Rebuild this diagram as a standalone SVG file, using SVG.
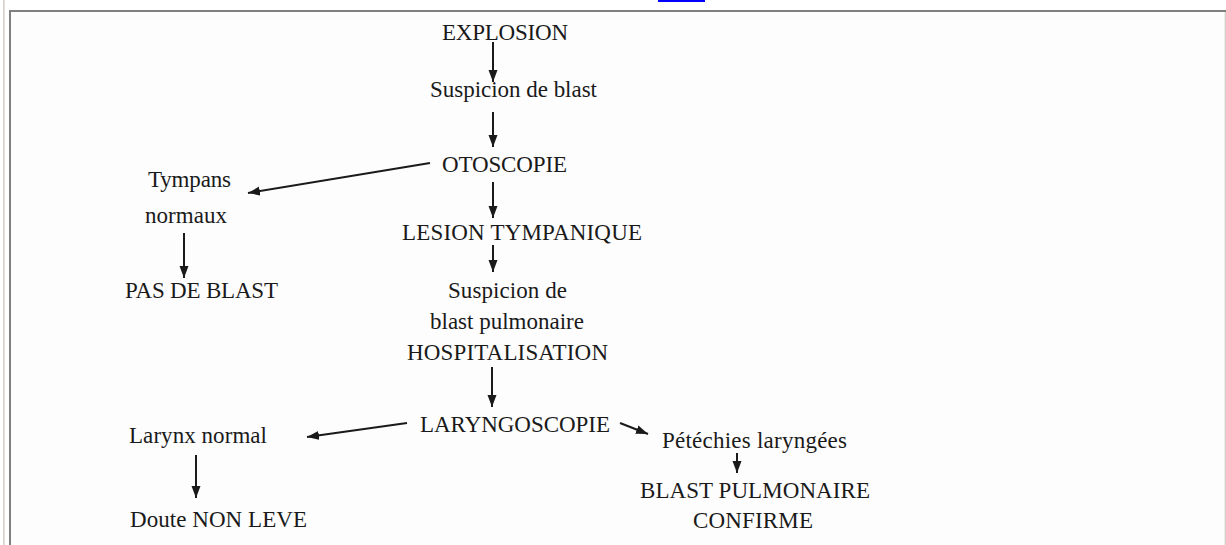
<svg xmlns="http://www.w3.org/2000/svg" width="1226" height="545" viewBox="0 0 1226 545">
<defs>
<marker id="ah" markerUnits="userSpaceOnUse" markerWidth="13" markerHeight="10" refX="12" refY="4.5" orient="auto">
<path d="M0,0 L12,4.5 L0,9 z" fill="#1a1a1a"/>
</marker>
<style>
text{font-family:"Liberation Serif","Times New Roman",serif;font-size:23px;fill:#1a1a1a}
.c line{stroke:#1a1a1a;stroke-width:2;marker-end:url(#ah)}
</style>
</defs>
<rect x="0" y="0" width="1226" height="545" fill="#ffffff"/>
<rect x="11" y="12" width="1213" height="533" fill="#fdfdfd"/>
<rect x="3" y="0" width="1.6" height="545" fill="#d4d0c8"/>
<rect x="1224.6" y="11" width="1.4" height="534" fill="#d4d0c8"/>
<rect x="9" y="10" width="1217" height="2" fill="#808080"/>
<rect x="9" y="10" width="2" height="535" fill="#808080"/>
<rect x="658" y="0" width="47" height="2" fill="#0000ff"/>
<g class="c" id="connectors">
<line x1="493" y1="42" x2="493" y2="82"/>
<line x1="493" y1="112" x2="493" y2="147"/>
<line x1="493" y1="182" x2="493" y2="218"/>
<line x1="493" y1="245" x2="493" y2="272"/>
<line x1="492" y1="367" x2="492" y2="407"/>
<line x1="430" y1="163" x2="248" y2="193"/>
<line x1="184" y1="233" x2="184" y2="278"/>
<line x1="407" y1="423" x2="307" y2="437"/>
<line x1="196" y1="455" x2="196" y2="498"/>
<line x1="620" y1="423" x2="648" y2="434"/>
<line x1="737" y1="453" x2="737" y2="473"/>
</g>
<g id="explosion"><text x="442" y="39.5" textLength="126">EXPLOSION</text></g>
<g id="suspicion"><text x="430" y="97" textLength="167">Suspicion de blast</text></g>
<g id="otoscopie"><text x="442" y="172" textLength="125">OTOSCOPIE</text></g>
<g id="lesion"><text x="402" y="240" textLength="240">LESION TYMPANIQUE</text></g>
<g id="suspicion-pulm">
<text x="448" y="298" textLength="119">Suspicion de</text>
<text x="430" y="329" textLength="154">blast pulmonaire</text>
<text x="407" y="360" textLength="201">HOSPITALISATION</text>
</g>
<g id="laryngoscopie"><text x="420" y="432" textLength="190">LARYNGOSCOPIE</text></g>
<g id="tympans">
<text x="148" y="187" textLength="83">Tympans</text>
<text x="145" y="223" textLength="82">normaux</text>
</g>
<g id="pas-de-blast"><text x="125" y="298" textLength="153">PAS DE BLAST</text></g>
<g id="larynx-normal"><text x="129" y="443" textLength="138">Larynx normal</text></g>
<g id="doute"><text x="130" y="527" textLength="177">Doute NON LEVE</text></g>
<g id="petechies"><text x="662" y="448" textLength="185">Pétéchies laryngées</text></g>
<g id="blast-confirme">
<text x="640" y="498" textLength="230">BLAST PULMONAIRE</text>
<text x="693" y="528" textLength="120">CONFIRME</text>
</g>
</svg>
